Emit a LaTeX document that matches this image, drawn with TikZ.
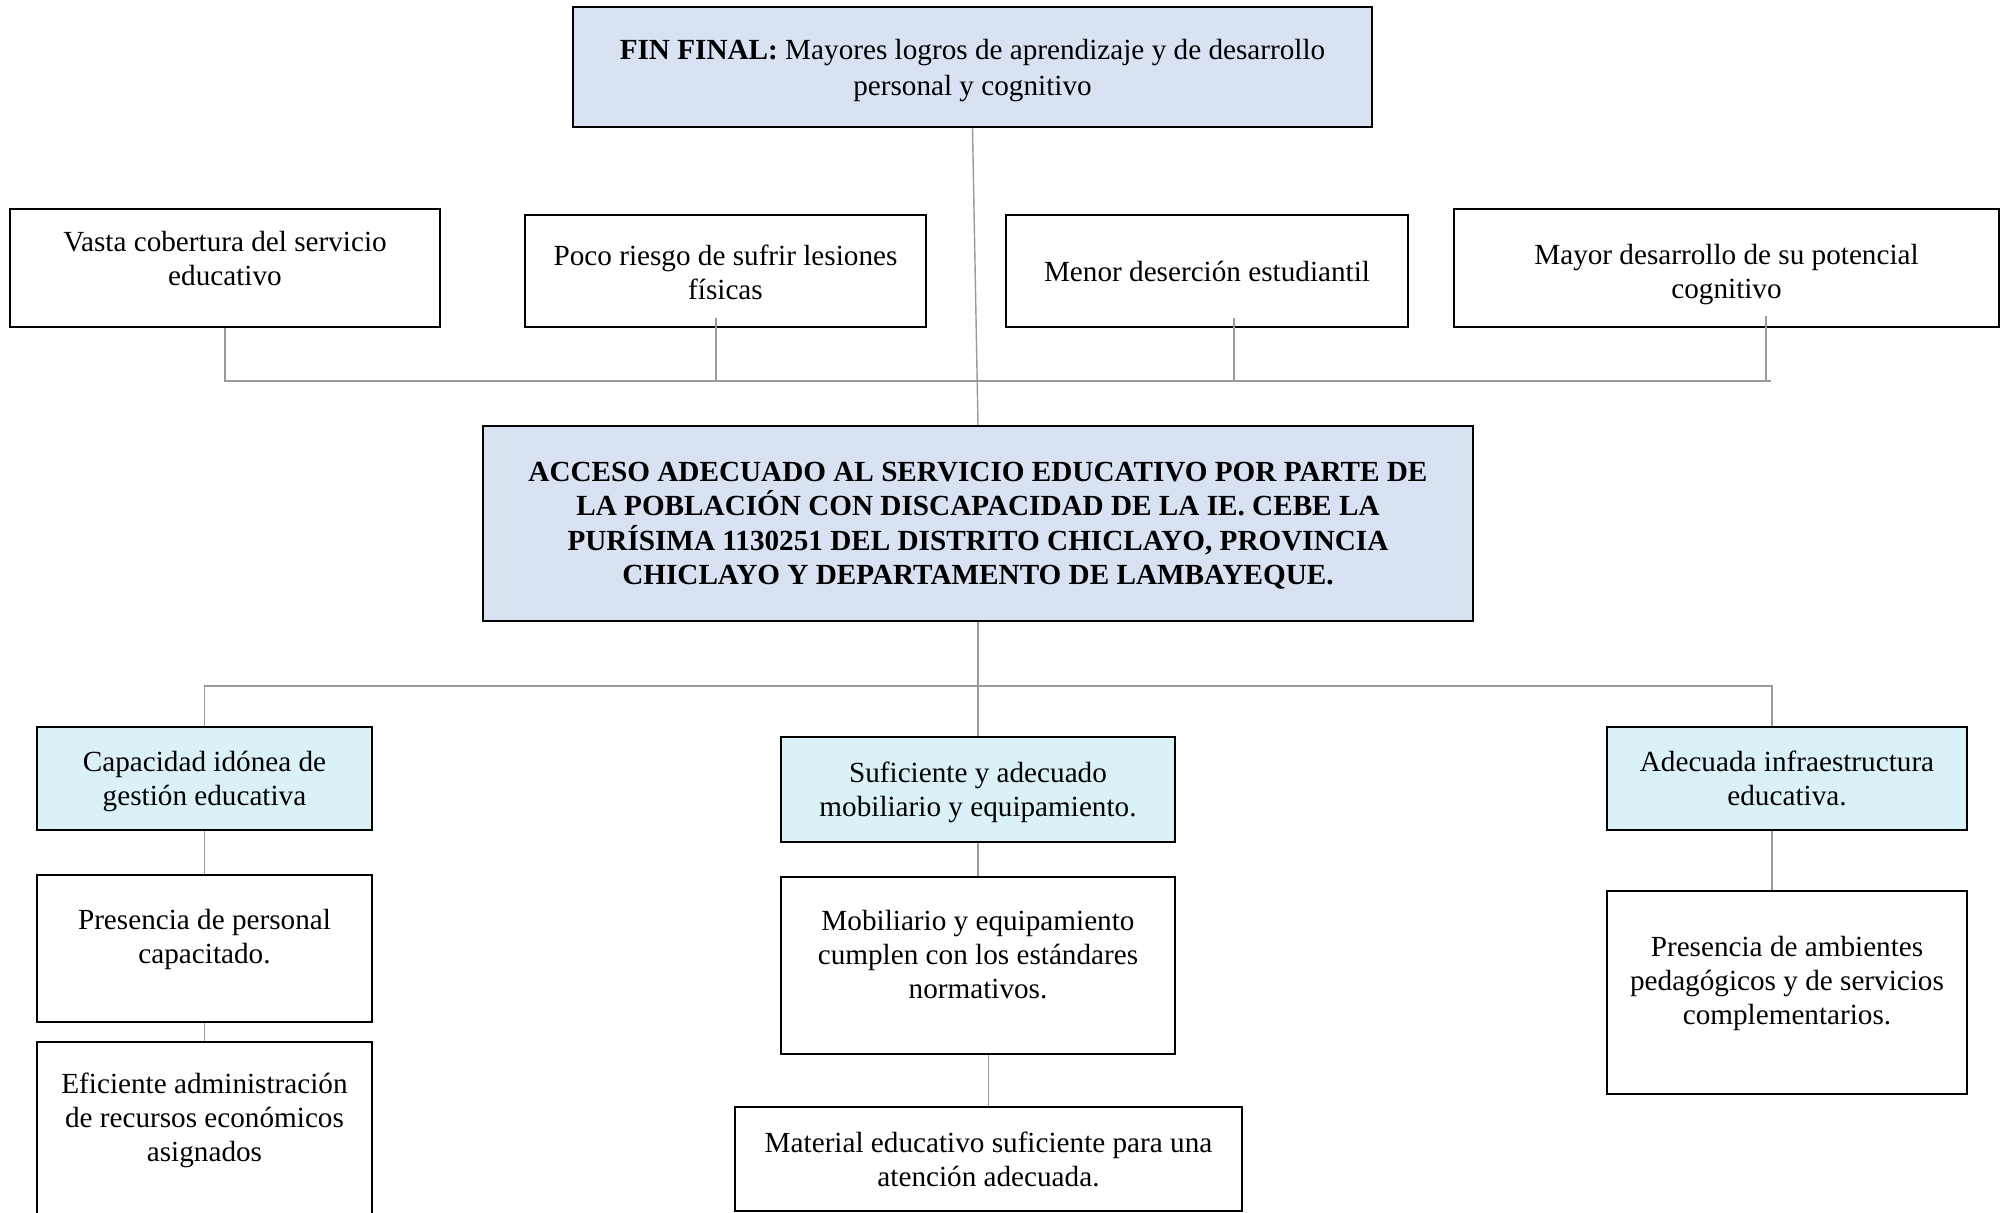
\documentclass[tikz,border=0pt]{standalone}
\usepackage{fontspec}
\setmainfont{Liberation Serif}
\definecolor{finblue}{HTML}{D9E2F3}
\definecolor{medcyan}{HTML}{DAF1F7}
\definecolor{linkgray}{HTML}{9A9A9A}

\begin{document}
\begin{tikzpicture}[x=0.5pt,y=-0.5pt,
		txt/.style={align=center,font=\fontsize{14.6}{17}\selectfont,text depth=-1pt},
		box/.style={txt,draw=black,line width=1.2pt,fill=white,inner sep=0pt},
		mainbox/.style={box,fill=finblue},
		medbox/.style={box,fill=medcyan},
		link/.style={draw=linkgray,line width=0.7pt}]
			\clip (0,0) rectangle (2003,1213);
			\fill[white] (0,0) rectangle (2003,1213);
			\node[mainbox,minimum width=399.5pt,minimum height=60pt,font=\fontsize{14.6}{18}\selectfont] (fin) at (972.5,67) {\textbf{FIN FINAL:} Mayores logros de aprendizaje y de desarrollo\\personal y cognitivo};
			\node[box,minimum width=215pt,minimum height=59pt,label={[txt,yshift=5pt]center:Vasta cobertura del servicio\\educativo}] (ef1) at (225,268) {};
			\node[box,minimum width=200.5pt,minimum height=56pt,label={[txt,yshift=-0.8pt]center:Poco riesgo de sufrir lesiones\\físicas}] (ef2) at (725.5,271) {};
			\node[box,minimum width=201pt,minimum height=56pt] (ef3) at (1207,271) {Menor deserción estudiantil};
			\node[box,minimum width=272.5pt,minimum height=59pt,label={[txt,yshift=-1.6pt]center:Mayor desarrollo de su potencial\\cognitivo}] (ef4) at (1726.5,268) {};
			\node[mainbox,minimum width=495pt,minimum height=97.5pt,font=\bfseries\fontsize{14.6}{17.25}\selectfont] (prob) at (978,523.5) {ACCESO ADECUADO AL SERVICIO EDUCATIVO POR PARTE DE\\LA POBLACIÓN CON DISCAPACIDAD DE LA IE. CEBE LA\\PURÍSIMA 1130251 DEL DISTRITO CHICLAYO, PROVINCIA\\CHICLAYO Y DEPARTAMENTO DE LAMBAYEQUE.};
			\node[medbox,minimum width=167.5pt,minimum height=51.5pt] (m1) at (204.5,778.5) {Capacidad idónea de\\gestión educativa};
			\node[medbox,minimum width=197pt,minimum height=52.5pt] (m2) at (978,789.5) {Suficiente y adecuado\\mobiliario y equipamiento.};
			\node[medbox,minimum width=180pt,minimum height=51.5pt] (m3) at (1787,778.5) {Adecuada infraestructura\\educativa.};
			\node[box,minimum width=167.5pt,minimum height=73.5pt,label={[txt,yshift=6.2pt]center:Presencia de personal\\capacitado.}] (m1a) at (204.5,948.5) {};
			\node[box,minimum width=167.5pt,minimum height=109pt,label={[txt,yshift=17pt]center:Eficiente administración\\de recursos económicos\\asignados}] (m1b) at (204.5,1151) {};
			\node[box,minimum width=197pt,minimum height=88.5pt,label={[txt,yshift=5.6pt]center:Mobiliario y equipamiento\\cumplen con los estándares\\normativos.}] (m2a) at (978,965.5) {};
			\node[box,minimum width=253.5pt,minimum height=52pt] (m2b) at (988.5,1159) {Material educativo suficiente para una\\atención adecuada.};
			\node[box,minimum width=180pt,minimum height=101.5pt,label={[txt,yshift=6pt]center:Presencia de ambientes\\pedagógicos y de servicios\\complementarios.}] (m3a) at (1787,992.5) {};
			\coordinate (barL) at (226,381);
			\coordinate (barR) at (1771,381);
			\coordinate (cbarR) at (1772,686);
			\draw[link] (fin.south) -- (prob.north);
			\draw[link] (ef1.south) |- (barR);
			\draw[link] (ef2.south) ++(-4.75pt,5pt) |- (barL);
			\draw[link] (ef3.south) ++(13.5pt,5pt) |- (barL);
			\draw[link] (ef4.south) ++(19.75pt,6pt) |- (barL);
			\draw[link] (prob.south) -- (m2.north);
			\draw[link] (m1.north) |- (cbarR) -- (cbarR |- m3.north);
			\draw[link] (m1.south) -- (m1a.north);
			\draw[link] (m1a.south) -- (m1b.north);
			\draw[link] (m2.south) -- (m2a.north);
			\draw[link] (m2b.north) -- (m2b.north |- m2a.south);
			\draw[link] (cbarR |- m3.south) -- (cbarR |- m3a.north);
		\end{tikzpicture}
\end{document}
